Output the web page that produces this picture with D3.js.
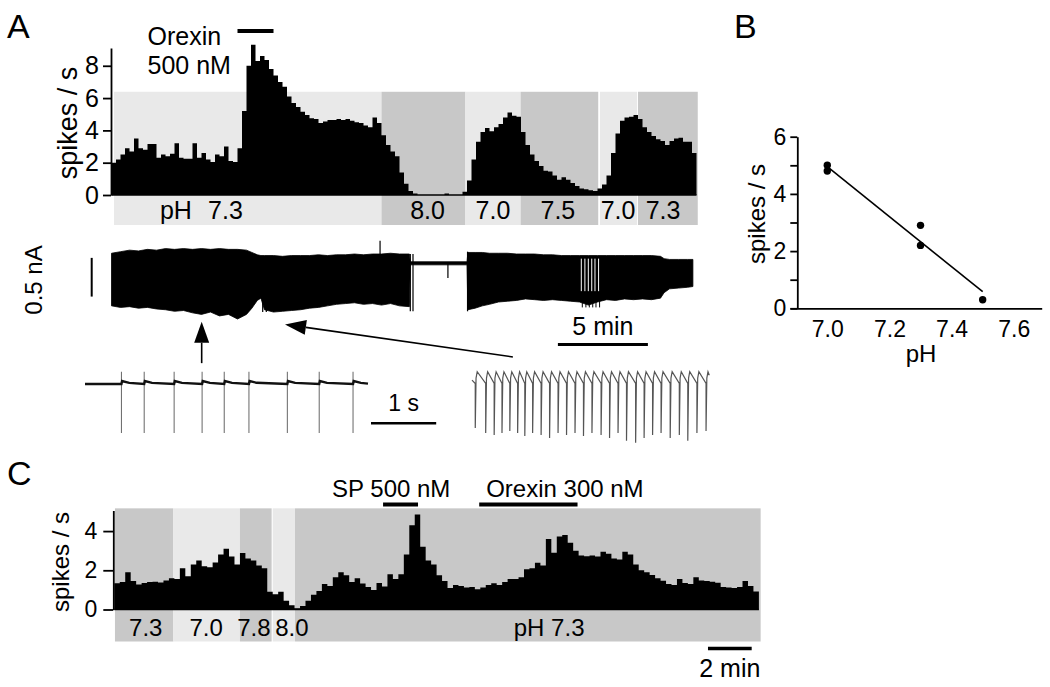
<!DOCTYPE html>
<html>
<head>
<meta charset="utf-8">
<script src="https://cdn.jsdelivr.net/npm/d3@7"></script>
<style>
  body { margin: 0; background: #fff; }
  svg { display: block; }
</style>
</head>
<body>
<svg id="fig" width="1050" height="687"></svg>
<script>
// ---------- data ----------
// panel A: rate histogram, 15 s bins (minutes on x)
var binA = 0.25;
var rateA = [2.0, 2.2, 2.5, 2.9, 2.7, 3.5, 2.9, 2.8, 3.15, 3.15,
  2.3, 2.5, 2.4, 2.55, 3.2, 2.3, 2.25, 2.25, 3.2, 2.3,
  2.6, 2.2, 2.05, 2.5, 2.4, 3.0, 2.1, 2.05, 2.9, 5.2,
  8.0, 9.3, 8.3, 8.6, 8.35, 7.8, 7.4, 7.0, 6.7, 6.1,
  5.7, 5.45, 5.15, 4.95, 4.75, 4.7, 4.45, 4.55, 4.65, 4.65,
  4.7, 4.65, 4.7, 4.6, 4.5, 4.45, 4.3, 4.2, 4.8, 4.45,
  3.7, 3.1, 2.7, 2.4, 1.4, 0.7, 0.25, 0.1, 0, 0,
  0, 0, 0, 0, 0.1, 0, 0, 0, 0.2, 0.9,
  2.2, 3.3, 3.9, 4.15, 3.95, 4.2, 4.4, 4.8, 5.1, 4.9,
  4.85, 3.9, 3.1, 2.5, 2.1, 1.8, 1.5, 1.45, 1.2, 0.95,
  1.1, 0.95, 0.75, 0.55, 0.4, 0.35, 0.3, 0.25, 0.4, 0.65,
  1.2, 2.6, 3.8, 4.6, 4.8, 4.85, 4.95, 4.7, 4.2, 3.9,
  3.65, 3.45, 3.35, 3.1, 3.35, 3.5, 3.55, 3.3, 3.3, 2.6];
var segStartA = [0.14, 15.0, 19.66, 22.73, 27.14, 29.25];
var segEndA   = [15.0, 19.66, 22.73, 27.04, 29.2, 32.57];
var segToneA  = ["light", "dark", "light", "dark", "light", "dark"];
var segLabelA = ["7.3", "8.0", "7.0", "7.5", "7.0", "7.3"];
var labelAtA  = [6.33, 17.56, 21.19, 24.8, 28.14, 30.64];
var orexinA = [7.0, 9.0];

// panel A: extracellular current trace envelope (nA)
var traceT = [0, 0.5, 1, 1.5, 2, 2.5, 3, 3.5, 4, 4.5, 5, 5.5, 6, 6.5, 7, 7.5, 7.8, 8.1, 8.3, 8.5,
  9, 9.5, 10, 10.5, 11, 11.5, 12, 12.5, 13, 13.5, 14, 14.5, 15, 15.5, 16, 16.55,
  16.6, 19.75,
  19.8, 20.2, 20.6, 21, 21.5, 22, 22.5, 23, 23.5, 24, 24.5, 25, 25.5, 26, 26.5, 27, 27.5,
  28, 28.5, 29, 29.5, 30, 30.5, 30.7, 31, 31.5, 32, 32.3];
var traceTop = [0.13, 0.15, 0.17, 0.16, 0.18, 0.17, 0.19, 0.18, 0.19, 0.18, 0.19, 0.18, 0.19, 0.18, 0.18, 0.17, 0.14, 0.11, 0.10, 0.10,
  0.10, 0.09, 0.10, 0.10, 0.10, 0.11, 0.10, 0.11, 0.11, 0.12, 0.11, 0.12, 0.12, 0.13, 0.12, 0.12,
  0.02, 0.02,
  0.14, 0.14, 0.14, 0.13, 0.13, 0.13, 0.12, 0.12, 0.12, 0.11, 0.11, 0.10, 0.10, 0.10, 0.10, 0.10, 0.10,
  0.10, 0.10, 0.10, 0.10, 0.10, 0.09, 0.06, 0.05, 0.05, 0.05, 0.05];
var traceBot = [-0.55, -0.57, -0.56, -0.58, -0.57, -0.59, -0.60, -0.62, -0.61, -0.64, -0.66, -0.63, -0.68, -0.66, -0.72, -0.66, -0.58, -0.48, -0.45, -0.60,
  -0.63, -0.62, -0.61, -0.60, -0.58, -0.57, -0.55, -0.53, -0.52, -0.51, -0.53, -0.52, -0.54, -0.52, -0.55, -0.56,
  -0.02, -0.02,
  -0.60, -0.58, -0.55, -0.53, -0.50, -0.49, -0.48, -0.46, -0.47, -0.48, -0.47, -0.48, -0.49, -0.50, -0.54, -0.50, -0.47,
  -0.48, -0.46, -0.47, -0.46, -0.47, -0.45, -0.38, -0.33, -0.32, -0.31, -0.30];
var spikeT  = [8.4, 8.6, 14.92, 16.6, 16.75, 18.69, 19.78];
var spikeHi = [-0.40, -0.40, 0.29, 0.12, 0.12, 0.0, 0.15];
var spikeLo = [-0.63, -0.63, 0.12, -0.62, -0.62, -0.19, -0.62];
var stripeT = [26.1, 26.3, 26.49, 26.68, 26.86, 27.06];

// insets (seconds)
var slowSpikes = [0.56, 0.91, 1.37, 1.8, 2.14, 2.52, 3.11, 3.6, 4.12];
var fastSpikes = [0.05, 0.21, 0.34, 0.46, 0.58, 0.7, 0.81, 0.93, 1.06, 1.19, 1.32, 1.45, 1.58, 1.71,
  1.84, 1.98, 2.11, 2.24, 2.37, 2.51, 2.64, 2.77, 2.9, 3.04, 3.18, 3.31, 3.45, 3.59];
var fastDepth = [-0.45, -0.5, -0.52, -0.5, -0.48, -0.5, -0.53, -0.5, -0.52, -0.55, -0.5, -0.52, -0.5, -0.53,
  -0.5, -0.52, -0.55, -0.5, -0.58, -0.6, -0.55, -0.52, -0.5, -0.55, -0.52, -0.58, -0.5, -0.48];

// panel B
var phB = [7.0, 7.0, 7.3, 7.3, 7.5];
var rateB = [5.0, 4.8, 2.9, 2.2, 0.3];
var fitPh = [7.0, 7.5];
var fitRate = [4.95, 0.58];

// panel C: rate histogram, 15 s bins
var binC = 0.25;
var rateC = [1.34, 1.4, 1.9, 1.45, 1.28, 1.35, 1.4, 1.41, 1.38, 1.48,
  1.6, 1.55, 2.1, 1.7, 2.3, 2.5, 2.2, 2.15, 2.4, 2.8,
  3.1, 2.7, 2.3, 2.88, 2.6, 2.5, 2.25, 2.1, 0.9, 0.78,
  0.9, 0.45, 0.22, 0.06, 0.18, 0.45, 0.75, 0.95, 1.3, 1.2,
  1.65, 1.9, 1.75, 1.4, 1.6, 1.32, 1.15, 1.0, 1.35, 1.17,
  1.8, 1.56, 1.8, 2.8, 4.3, 4.85, 3.2, 2.5, 2.3, 1.75,
  1.45, 1.1, 1.25, 1.2, 1.12, 1.15, 1.03, 1.12, 1.25, 1.34,
  1.25, 1.4, 1.55, 1.55, 1.65, 2.05, 2.1, 2.38, 2.25, 3.6,
  2.9, 3.72, 3.8, 3.4, 3.0, 2.76, 2.72, 2.76, 2.7, 2.95,
  2.85, 2.6, 2.55, 2.95, 2.8, 2.3, 2.0, 1.9, 1.76, 1.6,
  1.47, 1.3, 1.25, 1.55, 1.35, 1.3, 1.65, 1.48, 1.45, 1.41,
  1.36, 1.15, 1.12, 1.1, 1.15, 1.45, 1.2, 0.92];
var segStartC = [0.03, 2.7, 5.75, 7.25, 8.27];
var segEndC   = [2.7, 5.75, 7.2, 8.27, 29.58];
var segToneC  = ["dark", "light", "dark", "light", "dark"];
var segLabelC = ["7.3", "7.0", "7.8", "8.0", "pH 7.3"];
var labelAtC  = [1.44, 4.2, 6.39, 8.13, 19.9];
var spC = [12.3, 13.9];
var orexinC = [16.7, 21.2];

// ---------- drawing ----------
var FONT = '"Liberation Sans", Arial, Helvetica, sans-serif';
var LIGHT = "#e9e9e9", DARK = "#c8c8c8";
var svg = d3.select("#fig");

function label(g, x, y, s, size, anchor) {
  return g.append("text").attr("x", x).attr("y", y).text(s)
    .attr("font-family", FONT).attr("font-size", size)
    .attr("text-anchor", anchor || "start").attr("fill", "#000");
}
function styleAxis(g, size) {
  g.attr("font-family", FONT).attr("font-size", size);
  g.selectAll("path.domain").attr("stroke-width", 1.8);
  g.selectAll(".tick line").attr("stroke-width", 1.8);
  g.selectAll(".tick text").attr("fill", "#000");
}
function histArea(x, y, rates, bin) {
  var pts = rates.map(function(v, i) { return [i * bin, v]; });
  pts.push([rates.length * bin, rates[rates.length - 1]]);
  return d3.area().x(function(d) { return x(d[0]); })
    .y0(y(0)).y1(function(d) { return y(d[1]); })
    .curve(d3.curveStepAfter)(pts);
}
function arrow(g, x1, y1, x2, y2) {
  var dx = x2 - x1, dy = y2 - y1, L = Math.sqrt(dx * dx + dy * dy);
  var ux = dx / L, uy = dy / L, hl = 21, hw = 7.5;
  var bx = x2 - ux * hl, by = y2 - uy * hl;
  g.append("line").attr("x1", x1).attr("y1", y1).attr("x2", bx).attr("y2", by)
    .attr("stroke", "#000").attr("stroke-width", 1.6);
  g.append("path").attr("fill", "#000")
    .attr("d", "M" + x2 + "," + y2 + "L" + (bx - uy * hw) + "," + (by + ux * hw) +
      "L" + (bx + uy * hw) + "," + (by - ux * hw) + "Z");
}

// panel letters
label(svg, 7, 38, "A", 34);
label(svg, 734, 38, "B", 34);
label(svg, 7, 485, "C", 34);

// ===== Panel A histogram =====
var xA = d3.scaleLinear().domain([0, 32.5]).range([111.5, 696.5]);
var yA = d3.scaleLinear().domain([0, 9.1]).range([195, 48]);
var gA = svg.append("g");
var shadeTopA = 6.39;

segStartA.forEach(function(s, i) {
  gA.append("rect").attr("x", xA(s)).attr("width", xA(segEndA[i]) - xA(s))
    .attr("y", yA(shadeTopA)).attr("height", yA(0) + 30 - yA(shadeTopA))
    .attr("fill", segToneA[i] == "light" ? LIGHT : DARK);
});
gA.append("path").attr("d", histArea(xA, yA, rateA, binA)).attr("fill", "#000");
gA.append("line").attr("x1", xA(0)).attr("x2", xA(rateA.length * binA))
  .attr("y1", yA(0)).attr("y2", yA(0)).attr("stroke", "#000").attr("stroke-width", 1.5);

var axA = gA.append("g").attr("transform", "translate(111,0)")
  .call(d3.axisLeft(yA).tickValues([0, 2, 4, 6, 8]).tickSize(8).tickSizeOuter(0).tickPadding(4)
    .tickFormat(d3.format("d")));
styleAxis(axA, 25);
label(gA, 0, 0, "spikes / s", 27, "middle").attr("transform", "translate(77,123) rotate(-90)");

// pH labels strip
label(gA, xA(3.58), yA(0) + 24, "pH", 25, "middle");
segLabelA.forEach(function(s, i) {
  label(gA, xA(labelAtA[i]), yA(0) + 24, s, 25, "middle");
});

// orexin application
gA.append("line").attr("x1", xA(orexinA[0])).attr("x2", xA(orexinA[1]))
  .attr("y1", 31).attr("y2", 31).attr("stroke", "#000").attr("stroke-width", 4);
label(gA, xA(orexinA[0]) - 90, 45, "Orexin", 25);
label(gA, xA(orexinA[0]) - 90, 74, "500 nM", 25);

// ===== Panel A current trace =====
var yT = d3.scaleLinear().domain([-0.5, 0]).range([302, 263.3]);
var gT = svg.append("g");
var tracePts = traceT.map(function(t, i) { return [t, traceTop[i], traceBot[i]]; });
gT.append("path").attr("fill", "#000").attr("stroke", "#000").attr("stroke-width", 0.8)
  .attr("d", d3.area().x(function(d) { return xA(d[0]); })
    .y0(function(d) { return yT(d[2]); }).y1(function(d) { return yT(d[1]); })(tracePts));
spikeT.forEach(function(t, i) {
  gT.append("line").attr("x1", xA(t)).attr("x2", xA(t))
    .attr("y1", yT(spikeHi[i])).attr("y2", yT(spikeLo[i]))
    .attr("stroke", "#000").attr("stroke-width", 1.2);
});
stripeT.forEach(function(t) {
  gT.append("line").attr("x1", xA(t)).attr("x2", xA(t)).attr("y1", yT(0.06)).attr("y2", yT(-0.36))
    .attr("stroke", "#fff").attr("stroke-width", 1);
  gT.append("line").attr("x1", xA(t) + 1).attr("x2", xA(t) + 1).attr("y1", yT(-0.45)).attr("y2", yT(-0.57))
    .attr("stroke", "#000").attr("stroke-width", 1);
});
// 0.5 nA scale bar
gT.append("line").attr("x1", 91.7).attr("x2", 91.7).attr("y1", yT(0.07)).attr("y2", yT(-0.43))
  .attr("stroke", "#000").attr("stroke-width", 2);
label(gT, 0, 0, "0.5 nA", 24, "middle").attr("transform", "translate(42,280) rotate(-90)");
// 5 min bar
gT.append("line").attr("x1", xA(24.8)).attr("x2", xA(29.8)).attr("y1", yT(-1.05)).attr("y2", yT(-1.05))
  .attr("stroke", "#000").attr("stroke-width", 3);
label(gT, xA(27.3), yT(-1.05) - 10, "5 min", 25, "middle");
// arrows to insets
arrow(gT, xA(5.01), yT(-1.29), xA(5.01), yT(-0.755));
arrow(gT, xA(22.3), yT(-1.21), xA(9.64), yT(-0.79));

// ===== insets =====
var inX1 = d3.scaleLinear().domain([0, 4.35]).range([85, 368]);
var inX2 = d3.scaleLinear().domain([0, 3.62]).range([472, 708]);
var inY = d3.scaleLinear().domain([-0.5, 0]).range([433, 384]);
var gI = svg.append("g");
var inLine = d3.line().y(function(d) { return inY(d[1]); });

slowSpikes.forEach(function(t) {
  gI.append("line").attr("x1", inX1(t)).attr("x2", inX1(t)).attr("y1", inY(0.125)).attr("y2", inY(-0.5))
    .attr("stroke", "#666").attr("stroke-width", 1);
});
var basePts = [[0, 0]];
slowSpikes.forEach(function(t) {
  basePts.push([t, 0], [t + 0.01, 0.03], [t + 0.12, 0.012]);
});
basePts.push([4.35, 0.004]);
gI.append("path").attr("fill", "none").attr("stroke", "#111").attr("stroke-width", 2.4)
  .attr("d", inLine.x(function(d) { return inX1(d[0]); })(basePts));

var fastPts = [[0, 0.04]];
fastSpikes.forEach(function(t, k) {
  fastPts.push([t, 0.005], [t, fastDepth[k]], [t + 0.012, 0.06], [t + 0.03, 0.125]);
});
fastPts.push([3.64, 0.09]);
gI.append("path").attr("fill", "none").attr("stroke", "#555").attr("stroke-width", 1.2)
  .attr("d", inLine.x(function(d) { return inX2(d[0]); })(fastPts));

// 1 s bar
var secPx = inX2(1) - inX2(0);
var barX0 = 371;
gI.append("line").attr("x1", barX0).attr("x2", barX0 + secPx)
  .attr("y1", inY(-0.4)).attr("y2", inY(-0.4)).attr("stroke", "#000").attr("stroke-width", 2.5);
label(gI, barX0 + secPx / 2, inY(-0.28), "1 s", 23, "middle");

// ===== Panel B =====
var xB = d3.scaleLinear().domain([6.88, 7.69]).range([790, 1041.7]);
var yB = d3.scaleLinear().domain([0, 6]).range([308.3, 136.7]);
var gB = svg.append("g");
var axBy = gB.append("g").attr("transform", "translate(797.3,0)")
  .call(d3.axisLeft(yB).tickValues([0, 1, 2, 3, 4, 5, 6]).tickSize(7).tickSizeOuter(0).tickPadding(4)
    .tickFormat(function(d) { return d % 2 ? "" : d; }));
styleAxis(axBy, 23);
var axBx = gB.append("g").attr("transform", "translate(0,308.3)")
  .call(d3.axisBottom(xB).tickValues([7.0, 7.2, 7.4, 7.6]).tickSize(0).tickSizeOuter(0).tickPadding(12)
    .tickFormat(d3.format(".1f")));
styleAxis(axBx, 23);
label(gB, 921, 362, "pH", 24, "middle");
label(gB, 0, 0, "spikes / s", 24, "middle").attr("transform", "translate(765,214) rotate(-90)");
gB.append("line").attr("x1", xB(fitPh[0])).attr("y1", yB(fitRate[0]))
  .attr("x2", xB(fitPh[1])).attr("y2", yB(fitRate[1]))
  .attr("stroke", "#000").attr("stroke-width", 1.6);
gB.selectAll("circle.pt").data(phB).enter().append("circle")
  .attr("cx", function(d) { return xB(d); })
  .attr("cy", function(d, i) { return yB(rateB[i]); })
  .attr("r", 3.7).attr("fill", "#000");

// ===== Panel C =====
var xC = d3.scaleLinear().domain([0, 29.5]).range([114.3, 758.9]);
var yC = d3.scaleLinear().domain([0, 5.05]).range([609.5, 510.5]);
var gC = svg.append("g");
var shadeTopC = 5.16;
segStartC.forEach(function(s, i) {
  gC.append("rect").attr("x", xC(s)).attr("width", xC(segEndC[i]) - xC(s))
    .attr("y", yC(shadeTopC)).attr("height", yC(0) + 32 - yC(shadeTopC))
    .attr("fill", segToneC[i] == "light" ? LIGHT : DARK);
});
gC.append("path").attr("d", histArea(xC, yC, rateC, binC)).attr("fill", "#000");
gC.append("line").attr("x1", xC(0)).attr("x2", xC(rateC.length * binC))
  .attr("y1", yC(0)).attr("y2", yC(0)).attr("stroke", "#000").attr("stroke-width", 1.5);
var axC = gC.append("g").attr("transform", "translate(113.3,0)")
  .call(d3.axisLeft(yC).tickValues([0, 2, 4]).tickSize(10).tickSizeOuter(0).tickPadding(6)
    .tickFormat(d3.format("d")));
styleAxis(axC, 23);
label(gC, 0, 0, "spikes / s", 24, "middle").attr("transform", "translate(69,562) rotate(-90)");
segLabelC.forEach(function(s, i) {
  label(gC, xC(labelAtC[i]), yC(0) + 26, s, 24, "middle");
});
// drug bars
gC.append("line").attr("x1", xC(spC[0])).attr("x2", xC(spC[1]))
  .attr("y1", 504.5).attr("y2", 504.5).attr("stroke", "#000").attr("stroke-width", 4);
label(gC, xC(spC[0]) - 51, 497, "SP 500 nM", 24);
gC.append("line").attr("x1", xC(orexinC[0])).attr("x2", xC(orexinC[1]))
  .attr("y1", 504.5).attr("y2", 504.5).attr("stroke", "#000").attr("stroke-width", 4);
label(gC, xC(orexinC[0]) + 7, 497, "Orexin 300 nM", 24);
// 2 min bar
gC.append("line").attr("x1", xC(27.17)).attr("x2", xC(29.17))
  .attr("y1", 648.5).attr("y2", 648.5).attr("stroke", "#000").attr("stroke-width", 3.5);
label(gC, xC(28.17), 677, "2 min", 25, "middle");
</script>
</body>
</html>
